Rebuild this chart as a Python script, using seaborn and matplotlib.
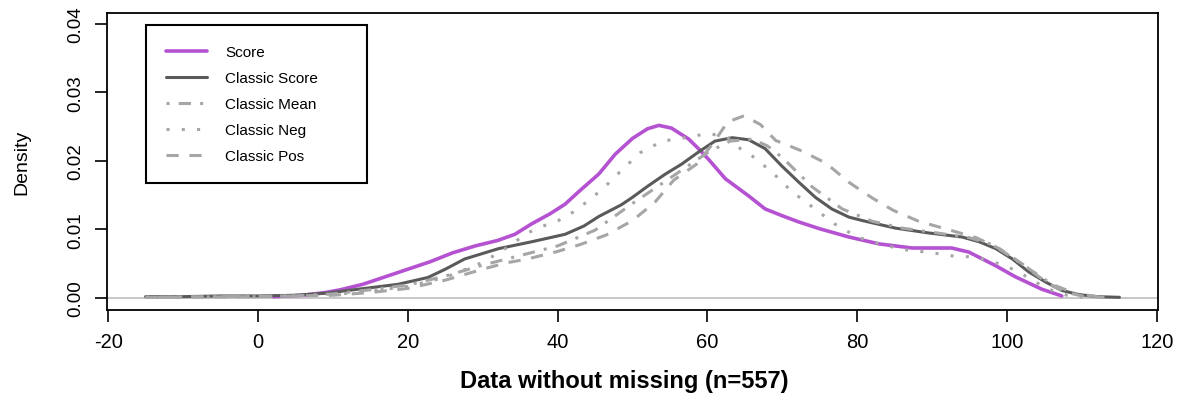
import numpy as np
import pandas as pd
import matplotlib
matplotlib.use("Agg")
import matplotlib.pyplot as plt
import seaborn as sns

# valores (densidad estimada por serie)
score_x = [2, 6, 9, 11, 14, 17, 20, 23, 26, 29, 32, 34.3, 36.5, 39, 41, 43, 45.5, 47.7, 50, 52,
           53.5, 55.2, 57.5, 58.8, 60.1, 62.4, 65.5, 67.7, 70, 72.2, 75, 78.9, 82.9, 87.3, 92.6,
           94.9, 98.5, 101.1, 104.6, 107.3]
score_y = [0.0002, 0.0004, 0.0008, 0.0012, 0.002, 0.0031, 0.0042, 0.0053, 0.0066, 0.0076, 0.0084,
           0.0093, 0.0108, 0.0123, 0.0137, 0.0157, 0.0181, 0.021, 0.0233, 0.0247, 0.0252, 0.0248,
           0.0232, 0.0218, 0.0203, 0.0174, 0.0149, 0.013, 0.012, 0.0111, 0.0101, 0.0089, 0.0079,
           0.0073, 0.0073, 0.0067, 0.0047, 0.0031, 0.0013, 0.0003]

cscore_x = [-15, -10, -5, 0, 5, 9, 12, 15, 18.7, 22.7, 25, 27.6, 30, 32.1, 36.5, 41, 43.5, 45.5,
            48.5, 50, 52, 54.4, 56.5, 58.8, 61, 63.3, 65.5, 67.7, 69.9, 72.2, 74.4, 76.6, 78.9,
            80.7, 85.1, 89.5, 94, 96.3, 98.5, 100.7, 102.9, 105.2, 107.3, 109.6, 112, 115]
cscore_y = [0.0002, 0.0002, 0.0003, 0.0003, 0.0004, 0.0007, 0.0011, 0.0015, 0.002, 0.003, 0.0042,
            0.0057, 0.0065, 0.0072, 0.0082, 0.0093, 0.0105, 0.0119, 0.0136, 0.0147, 0.0163, 0.0181,
            0.0195, 0.0213, 0.0229, 0.0234, 0.0231, 0.0218, 0.0193, 0.0169, 0.0147, 0.013, 0.0118,
            0.0113, 0.0102, 0.0095, 0.0089, 0.0082, 0.0072, 0.0057, 0.0038, 0.0023, 0.0011, 0.0005,
            0.0002, 0.0001]

cmean_x = [-15, -5, 5, 10, 15, 20, 25, 30, 35, 40, 45, 50, 55, 60, 63, 66, 68, 70, 74, 78, 82, 86,
           90, 95, 98, 100, 103, 106, 109, 112]
cmean_y = [0.0001, 0.0002, 0.0003, 0.0006, 0.0012, 0.0019, 0.0032, 0.0048, 0.0062, 0.0076, 0.0099,
           0.0138, 0.0175, 0.0212, 0.0229, 0.0232, 0.0222, 0.0205, 0.0162, 0.013, 0.0112, 0.0102,
           0.0096, 0.0088, 0.0078, 0.0064, 0.0042, 0.002, 0.0007, 0.0002]

cneg_x = [-15, 0, 10, 15, 20, 25, 30, 33, 36, 38.3, 40.1, 42, 43.5, 46, 48.5, 51, 54, 57, 60, 62.5,
          64.4, 66, 68.6, 71.3, 74, 77, 80, 83, 86, 90, 93, 95.5, 97.5, 100, 102, 104, 106, 108, 110]
cneg_y = [0.0001, 0.0002, 0.0005, 0.001, 0.0017, 0.003, 0.0052, 0.0072, 0.0095, 0.0106, 0.0113,
          0.0125, 0.0137, 0.0159, 0.0186, 0.0212, 0.0229, 0.0234, 0.024, 0.0236, 0.0218, 0.0207,
          0.0184, 0.0155, 0.0133, 0.0108, 0.0089, 0.0079, 0.0071, 0.0066, 0.0061, 0.006, 0.0055,
          0.0046, 0.0035, 0.0022, 0.0011, 0.0004, 0.0001]

cpos_x = [-15, 0, 10, 15, 20, 25, 30, 33, 36, 40, 43, 46.5, 50, 53, 55.5, 58.5, 60.7, 62.7, 64.9,
          67.1, 69.1, 72.3, 75.8, 79, 82, 84.8, 88.2, 92.1, 95.9, 99, 102, 104, 106, 108, 110, 113]
cpos_y = [0.0001, 0.0002, 0.0004, 0.0008, 0.0014, 0.0026, 0.0042, 0.0051, 0.0057, 0.0068, 0.0078,
          0.0092, 0.0113, 0.014, 0.0172, 0.0195, 0.0225, 0.0257, 0.0266, 0.0253, 0.023, 0.0216,
          0.0197, 0.0168, 0.0146, 0.0128, 0.0112, 0.01, 0.0088, 0.0072, 0.005, 0.0033, 0.0018,
          0.0008, 0.0003, 0.0001]

series = ["Score", "Classic Score", "Classic Mean", "Classic Neg", "Classic Pos"]
xs = [score_x, cscore_x, cmean_x, cneg_x, cpos_x]
ys = [score_y, cscore_y, cmean_y, cneg_y, cpos_y]

x_ticks = [-20, 0, 20, 40, 60, 80, 100, 120]
y_ticks = [0.00, 0.01, 0.02, 0.03, 0.04]

df = pd.concat([pd.DataFrame({"x": x, "dens": y, "serie": s}) for s, x, y in zip(series, xs, ys)],
               ignore_index=True)

sns.set_theme(style="white")
plt.rcParams["font.family"] = ["Liberation Sans", "DejaVu Sans"]
plt.rcParams["text.color"] = "black"
plt.rcParams["axes.labelcolor"] = "black"

colores = {"Score": "#B552D2", "Classic Score": "#5A5A5A", "Classic Mean": "#A6A6A6",
           "Classic Neg": "#A6A6A6", "Classic Pos": "#A6A6A6"}
trazos = {"Score": "", "Classic Score": "", "Classic Mean": (1, 3, 4, 3),
          "Classic Neg": (1, 4), "Classic Pos": (4, 3.5)}
grosores = {"Score": 2.6, "Classic Score": 2.2, "Classic Mean": 2.2,
            "Classic Neg": 2.2, "Classic Pos": 2.2}

fig = plt.figure(figsize=(11.77, 4.06), dpi=100)
ax = fig.add_axes([0.0909, 0.234, 0.893, 0.7315])

ax.axhline(0, color="#BEBEBE", lw=1.2, zorder=1)
sns.lineplot(data=df, x="x", y="dens", hue="serie", style="serie", size="serie",
             hue_order=series, style_order=series, size_order=series,
             palette=colores, dashes=trazos, sizes=grosores,
             estimator=None, sort=False, ax=ax)

ax.set_xlim(-20.15, 120.15)
ax.set_ylim(-0.00175, 0.0416)
ax.set_xticks(x_ticks)
ax.set_xticklabels([str(t) for t in x_ticks], fontsize=14.5)
ax.set_yticks(y_ticks)
ax.set_yticklabels([f"{t:.2f}" for t in y_ticks], fontsize=13.5, rotation=90, va="center")
ax.tick_params(axis="both", direction="out", length=8.6, width=1.2, color="black",
               labelcolor="black", bottom=True, left=True)
ax.tick_params(axis="x", pad=7)
ax.tick_params(axis="y", pad=8)
for sp in ax.spines.values():
    sp.set_visible(True)
    sp.set_color("black")
    sp.set_linewidth(1.3)

ax.set_xlabel("Data without missing (n=557)", fontsize=17, fontweight="bold", va="center",
              color="black")
ax.xaxis.set_label_coords(0.492, -0.239)
ax.set_ylabel("Density", fontsize=14, va="center", color="black")
ax.yaxis.set_label_coords(-0.081, 0.5)

# leyenda estilo R
viejo = ax.get_legend()
handles = viejo.legend_handles
labels = [t.get_text() for t in viejo.get_texts()]
viejo.remove()
leg = ax.legend(handles, labels, loc="upper left",
                bbox_to_anchor=(0.0371, 0.9596 - 0.53, 0.2103, 0.53), mode="expand",
                borderaxespad=0, fontsize=11, frameon=True, fancybox=False, framealpha=1,
                edgecolor="black", borderpad=1.3, labelspacing=0.79, handlelength=2.7,
                handletextpad=1.2)
leg.get_frame().set_linewidth(1.5)
for t in leg.get_texts():
    t.set_color("black")

plt.savefig("out.png", dpi=100)
